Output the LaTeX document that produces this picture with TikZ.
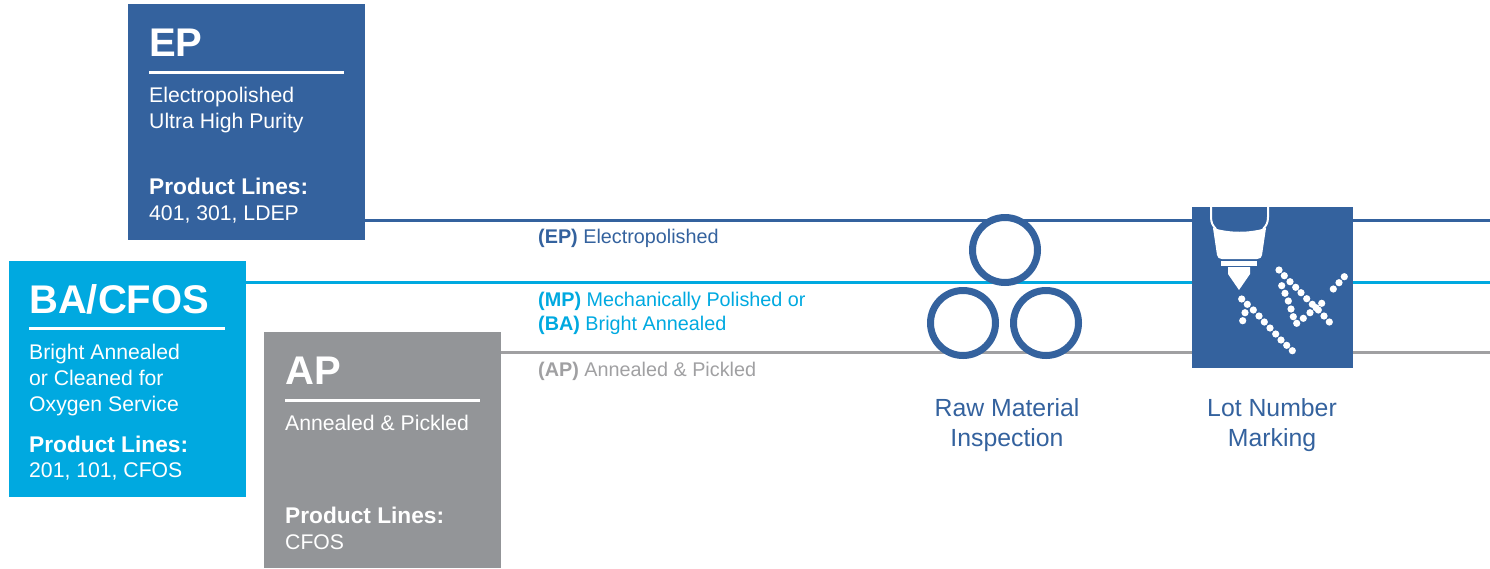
\documentclass[tikz,border=0pt]{standalone}
\usepackage{fontspec}
\setmainfont{Liberation Sans}
\usetikzlibrary{positioning}
\definecolor{epblue}{HTML}{34629E}
\definecolor{bacyan}{HTML}{00A9E0}
\definecolor{apgrey}{HTML}{939598}
\definecolor{aplight}{HTML}{A0A0A2}
\newcommand\boxtitlefont{\fontsize{40}{40}\selectfont\bfseries}
\newcommand\boxbodyfont{\fontsize{21.2}{26}\selectfont}
\newcommand\plfont{\fontsize{22.7}{26}\selectfont\bfseries}
\newcommand\tagfont{\fontsize{19.8}{24}\selectfont}
\newcommand\capfont{\fontsize{24.8}{30}\selectfont}

\begin{document}
\begin{tikzpicture}[x=1pt,y=-1pt,
    finish/.style={fill=#1, inner sep=0pt, minimum width=237pt, minimum height=236pt},
    boxtitle/.style={white, inner sep=0pt, anchor=base west, font=\boxtitlefont},
    boxtext/.style={white, inner sep=0pt, anchor=base west, align=left, font=\boxbodyfont},
    pltext/.style={white, inner sep=0pt, anchor=base west, font=\plfont},
    rule/.style={white, line width=3pt},
    track/.style={#1, line width=3pt},
    tag/.style={#1, inner sep=0pt, anchor=base west, align=left, font=\tagfont},
    tube/.style={circle, draw=epblue, fill=white, line width=7pt, minimum size=65pt, inner sep=0pt},
    caption/.style={epblue, inner sep=0pt, align=center, font=\capfont}]
    \useasboundingbox (0,0) rectangle (1490,568);

    % Finish boxes
    \node[finish=epblue] (epbox) at (246.5,122) {};
    \node[finish=bacyan] (babox) at (127.5,379) {};
    \node[finish=apgrey] (apbox) at (382.5,450) {};

    % EP (multi-line texts sit on their last baseline)
    \node[boxtitle] (eptitle) at (149,56) {EP};
    \draw[rule] (149,72) -- (344,72);
    \node[boxtext] (epdesc) at (149,128) {Electropolished\\Ultra High Purity};
    \node[pltext] (eppl) at (149,194) {Product Lines:};
    \node[boxtext] (eplines) at (149,220) {401, 301, LDEP};

    % BA/CFOS
    \node[boxtitle] (batitle) at (29,313) {BA/CFOS};
    \draw[rule] (29,328) -- (225,328);
    \node[boxtext] (badesc) at (29,411) {Bright Annealed\\or Cleaned for\\Oxygen Service};
    \node[pltext] (bapl) at (29,452) {Product Lines:};
    \node[boxtext] (balines) at (29,477) {201, 101, CFOS};

    % AP
    \node[boxtitle] (aptitle) at (285,384) {AP};
    \draw[rule] (285,400) -- (480,400);
    \node[boxtext] (apdesc) at (285,430) {Annealed \& Pickled};
    \node[pltext] (appl) at (285,523) {Product Lines:};
    \node[boxtext] (aplines) at (285,549) {CFOS};

    % Process tracks
    \coordinate (epend) at (1490,220);
    \coordinate (baend) at (1490,282);
    \coordinate (apend) at (1490,352);
    \draw[track=epblue] (epbox.east |- epend) -- (epend);
    \draw[track=bacyan] (babox.east |- baend) -- (baend);
    \draw[track=aplight] (apbox.east |- apend) -- (apend);

    \node[tag=epblue] (eptag) at (538,243) {\textbf{(EP)} Electropolished};
    \node[tag=bacyan] (batag) at (538,330) {\textbf{(MP)} Mechanically Polished or\\\textbf{(BA)} Bright Annealed};
    \node[tag=aplight] (aptag) at (538,376) {\textbf{(AP)} Annealed \& Pickled};

    % Raw material inspection
    \node[tube] (tubetop) at (1005,250) {};
    \node[tube] (tubeleft) at (963,323) {};
    \node[tube] (tuberight) at (1046,323) {};
    \node[caption] (rawcap) at (1007,425) {Raw Material\\Inspection};

    % Lot number marking
    \node[fill=epblue, inner sep=0pt, minimum size=161pt] (laser) at (1272.5,287) {};
    \draw[white, line width=2pt] (1211,207) -- (1211,217) .. controls (1211,223) and (1213,226) .. (1216,229);
    \draw[white, line width=2pt] (1268,207) -- (1268,217) .. controls (1268,223) and (1266,226) .. (1263,229);
    \fill[white] (1213,228) .. controls (1230,233) and (1249,233) .. (1266,228)
        -- (1262,255) .. controls (1261,258) .. (1257,259) -- (1222,259)
        .. controls (1218,258) .. (1217,255) -- cycle;
    \fill[white] (1221,261) rectangle (1257,266);
    \fill[white] (1228,267) -- (1250,267) -- (1250,274) -- (1239,290) -- (1228,274) -- cycle;
    \foreach \p in {(1241.7,299),(1247.3,304.3),(1253.3,310),(1259,316),(1264.3,322),
        (1270,328),(1275.7,334),(1281,340),(1286.7,345.3),(1292.3,350.7),
        (1245,312.7),(1242.7,320.7),
        (1279,270),(1284.3,275.7),(1290,281.7),(1295.7,287.3),(1301,292.7),
        (1306.7,298.7),(1312.3,304.3),(1318.3,310),(1324,316),(1329.3,322),
        (1281.7,285.7),(1285,293.3),(1288.3,301),(1291,309),(1293.3,316.7),
        (1296.7,323.3),(1303.3,318.3),(1310,312.7),(1316,307.7),(1321.7,303.3),
        (1333.3,289),(1339,282.7),(1344.3,276.7)}
        \fill[white] \p circle (3.6);
    \node[caption] (lotcap) at (1272,425) {Lot Number\\Marking};
\end{tikzpicture}
\end{document}
